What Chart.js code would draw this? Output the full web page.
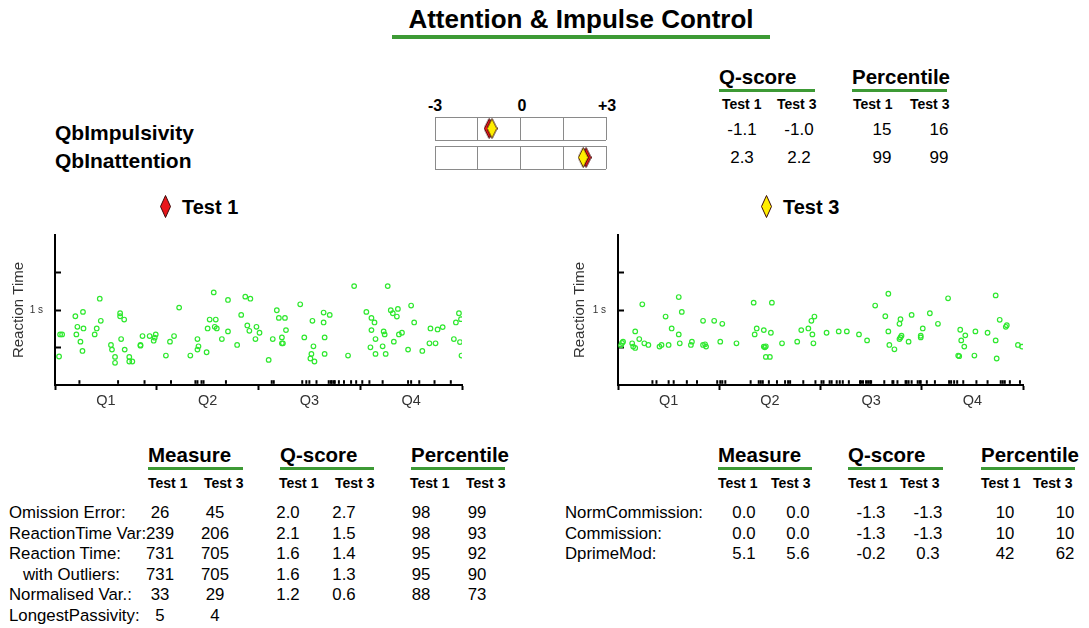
<!DOCTYPE html>
<html>
<head>
<meta charset="utf-8">
<title>Attention &amp; Impulse Control</title>
<script src="https://cdn.jsdelivr.net/npm/chart.js@4.4.0/dist/chart.umd.min.js"></script>
<style>
  body { margin: 0; background: #fff; font-family: "Liberation Sans", Arial, sans-serif; color: #000; }
  #page { position: relative; width: 1089px; height: 628px; overflow: hidden; }
  .t { position: absolute; white-space: nowrap; line-height: 1; transform: translateY(-50%); }
  .c { transform: translate(-50%, -50%); }
  .b { font-weight: bold; }
  .bar { position: absolute; background: #3d9a35; }
  canvas { position: absolute; }
</style>
</head>
<body>
<div id="page"></div>
<script>
// --- data ---
const quarterLabels = ['Q1', 'Q2', 'Q3', 'Q4'];

// [quarter position, reaction time in ms]
const test1Hits = [
  [0.04,380],[0.05,675],[0.07,675],[0.20,917],[0.21,675],[0.22,776],[0.25,578],[0.27,454],[0.275,975],[0.28,754],
  [0.39,675],[0.41,754],[0.44,1151],[0.45,856],[0.55,534],[0.56,472],[0.59,375],[0.59,296],[0.64,957],[0.64,917],
  [0.65,613],[0.68,873],[0.685,472],[0.73,313],[0.73,375],[0.76,313],[0.84,525],[0.84,534],[0.86,653],[0.93,653],
  [0.97,591],[0.98,631],[0.99,675],[1.09,393],[1.13,578],[1.17,653],[1.22,1032],[1.33,393],[1.40,472],[1.40,613],
  [1.41,516],[1.49,437],[1.50,754],[1.52,873],[1.56,1235],[1.57,776],[1.58,873],[1.59,754],[1.64,613],[1.70,1134],
  [1.70,715],[1.79,534],[1.83,935],[1.87,1178],[1.89,794],[1.91,723],[1.92,1151],[1.97,613],[1.98,776],[2.01,697],
  [2.10,335],[2.14,613],[2.18,997],[2.20,895],[2.23,635],[2.23,556],[2.24,556],[2.26,895],[2.27,732],[2.41,1076],
  [2.45,635],[2.51,353],[2.52,415],[2.53,856],[2.54,516],[2.55,313],[2.64,966],[2.64,834],[2.65,635],[2.65,415],
  [2.70,935],[2.88,393],[2.94,1319],[3.06,975],[3.10,503],[3.11,895],[3.11,732],[3.14,834],[3.15,613],[3.15,415],
  [3.22,516],[3.23,715],[3.24,675],[3.25,415],[3.27,1319],[3.30,997],[3.32,957],[3.33,578],[3.36,913],[3.37,1015],
  [3.38,675],[3.41,697],[3.47,472],[3.50,1059],[3.53,834],[3.61,454],[3.68,556],[3.69,754],[3.74,556],[3.76,741],
  [3.81,772],[3.92,613],[3.94,834],[3.97,957],[3.98,573],[3.99,878],[3.995,393]
];
const test1Rug = [0.24,0.62,0.88,1.14,1.38,1.40,1.44,1.46,1.68,2.13,2.15,2.43,2.47,2.50,2.57,2.69,2.71,2.72,
  2.74,2.75,2.79,2.84,2.91,2.96,3.02,3.09,3.22,3.47,3.50,3.58,3.73,3.89];

const test3Hits = [
  [0.03,529],[0.04,560],[0.05,578],[0.14,556],[0.15,512],[0.17,494],[0.17,715],[0.21,613],[0.24,1076],[0.26,556],
  [0.30,534],[0.41,512],[0.43,534],[0.47,913],[0.50,534],[0.53,754],[0.60,1173],[0.60,675],[0.61,556],[0.63,975],
  [0.72,534],[0.73,578],[0.84,856],[0.84,534],[0.86,543],[0.87,512],[0.95,856],[1.01,578],[1.03,816],[1.17,556],
  [1.34,1098],[1.35,675],[1.37,754],[1.44,512],[1.44,732],[1.45,503],[1.46,516],[1.46,375],[1.50,375],[1.51,697],
  [1.52,1098],[1.62,556],[1.77,578],[1.81,732],[1.88,754],[1.91,856],[1.92,675],[1.93,556],[1.94,913],[2.06,697],
  [2.18,715],[2.26,715],[2.38,675],[2.46,595],[2.54,1059],[2.64,917],[2.67,1217],[2.67,715],[2.68,534],[2.73,476],
  [2.78,816],[2.78,613],[2.79,878],[2.79,635],[2.80,657],[2.87,578],[2.90,935],[2.99,635],[2.99,657],[3.01,754],
  [3.08,957],[3.16,816],[3.26,1156],[3.36,393],[3.37,384],[3.38,737],[3.39,595],[3.42,512],[3.43,662],[3.52,393],
  [3.53,715],[3.65,697],[3.73,1195],[3.73,595],[3.74,353],[3.77,869],[3.83,776],[3.84,798],[3.95,534],[3.99,512]
];
const test3Rug = [0.34,0.38,0.50,0.55,0.68,0.78,0.98,1.01,1.03,1.06,1.31,1.39,1.41,1.43,1.49,1.57,1.65,1.68,1.70,
  1.83,1.95,2.01,2.03,2.09,2.11,2.16,2.19,2.22,2.28,2.39,2.40,2.42,2.45,2.47,2.49,2.50,2.63,2.71,2.72,2.76,2.84,
  2.85,2.87,2.90,2.96,2.98,2.99,3.05,3.13,3.27,3.29,3.32,3.35,3.41,3.54,3.65,3.78,3.80,3.82,3.87,3.97];

// QbTest summary
const qbNames = ['QbImpulsivity', 'QbInattention'];
const qbScoreT1 = [-1.1, 2.3];
const qbScoreT3 = [-1.0, 2.2];
const qbPctT1 = [15, 99];
const qbPctT3 = [16, 99];

// left table
const sumNames = ['Omission Error:', 'ReactionTime Var:', 'Reaction Time:', 'with Outliers:', 'Normalised Var.:', 'LongestPassivity:'];
const sumMeasureT1 = [26, 239, 731, 731, 33, 5];
const sumMeasureT3 = [45, 206, 705, 705, 29, 4];
const sumQT1 = [2.0, 2.1, 1.6, 1.6, 1.2, null];
const sumQT3 = [2.7, 1.5, 1.4, 1.3, 0.6, null];
const sumPctT1 = [98, 98, 95, 95, 88, null];
const sumPctT3 = [99, 93, 92, 90, 73, null];

// right table
const comNames = ['NormCommission:', 'Commission:', 'DprimeMod:'];
const comMeasureT1 = [0.0, 0.0, 5.1];
const comMeasureT3 = [0.0, 0.0, 5.6];
const comQT1 = [-1.3, -1.3, -0.2];
const comQT3 = [-1.3, -1.3, 0.3];
const comPctT1 = [10, 10, 42];
const comPctT3 = [10, 10, 62];

const GREEN = '#3d9a35';
const DOT = '#2ee82e';
const page = document.getElementById('page');

// --- helpers ---
function text(str, x, y, size, opts) {
  opts = opts || {};
  var d = document.createElement('div');
  d.className = 't' + (opts.bold ? ' b' : '') + (opts.center ? ' c' : '');
  d.style.left = x + 'px';
  d.style.top = y + 'px';
  d.style.fontSize = size + 'px';
  if (opts.color) d.style.color = opts.color;
  d.textContent = str;
  page.appendChild(d);
}
function bar(x1, x2, y, h) {
  var d = document.createElement('div');
  d.className = 'bar';
  d.style.left = x1 + 'px';
  d.style.width = (x2 - x1) + 'px';
  d.style.top = y + 'px';
  d.style.height = h + 'px';
  page.appendChild(d);
}
function canvasAt(x, y, w, h) {
  var c = document.createElement('canvas');
  c.width = w; c.height = h;
  c.style.left = x + 'px'; c.style.top = y + 'px';
  page.appendChild(c);
  return c;
}
function diamond(fill, w, h) {
  var c = document.createElement('canvas');
  c.width = w; c.height = h;
  var g = c.getContext('2d');
  g.beginPath();
  g.moveTo(w / 2, 0.5); g.lineTo(w - 0.5, h / 2); g.lineTo(w / 2, h - 0.5); g.lineTo(0.5, h / 2);
  g.closePath();
  g.fillStyle = fill; g.fill();
  g.strokeStyle = '#3a0a0a'; g.lineWidth = 1; g.stroke();
  return c;
}
function fmt(v, dec) { return v === null ? '' : v.toFixed(dec); }

// --- title ---
text('Attention & Impulse Control', 581, 19, 26, { bold: true, center: true });
bar(392, 770, 35, 4);

// --- QbTest slider rows ---
text('-3', 435, 106, 16, { bold: true, center: true });
text('0', 522, 106, 16, { bold: true, center: true });
text('+3', 607, 106, 16, { bold: true, center: true });

const sliderTops = [116, 145];
const sliderRowY = [132, 160];
qbNames.forEach(function (name, i) {
  text(name, 55, sliderRowY[i], 21, { bold: true });
  var c = canvasAt(434, sliderTops[i], 173, 25);
  new Chart(c, {
    type: 'scatter',
    data: {
      datasets: [
        { data: [{ x: qbScoreT1[i], y: 0.5 }], pointStyle: diamond('#e8161b', 11, 21), order: 2 },
        { data: [{ x: qbScoreT3[i], y: 0.5 }], pointStyle: diamond('#ffee00', 11, 21), order: 1 }
      ]
    },
    options: {
      responsive: false, animation: false,
      layout: { padding: 1, autoPadding: false },
      plugins: { legend: { display: false }, tooltip: { enabled: false } },
      scales: {
        x: {
          min: -3, max: 3,
          afterBuildTicks: function (s) { s.ticks = [-3, -1.5, 0, 1.5, 3].map(function (v) { return { value: v }; }); },
          afterFit: function (s) { s.height = 0; s.paddingLeft = 0; s.paddingRight = 0; },
          ticks: { display: false },
          grid: { color: '#8a8a8a', drawTicks: false },
          border: { display: false }
        },
        y: {
          min: 0, max: 1,
          afterBuildTicks: function (s) { s.ticks = [{ value: 0 }, { value: 1 }]; },
          afterFit: function (s) { s.width = 0; s.paddingTop = 0; s.paddingBottom = 0; },
          ticks: { display: false },
          grid: { color: '#8a8a8a', drawTicks: false },
          border: { display: false }
        }
      }
    }
  });
});

// --- top right score table ---
text('Q-score', 719, 77, 20.5, { bold: true });
bar(719, 815, 89, 3);
text('Percentile', 852, 77, 20.5, { bold: true });
bar(852, 947, 89, 3);
[[722, 'Test 1'], [777, 'Test 3'], [853, 'Test 1'], [910, 'Test 3']].forEach(function (h) {
  text(h[1], h[0], 104, 14, { bold: true });
});
qbNames.forEach(function (n, i) {
  var y = sliderRowY[i] - 3;
  text(fmt(qbScoreT1[i], 1), 742, y, 17, { center: true });
  text(fmt(qbScoreT3[i], 1), 799, y, 17, { center: true });
  text(fmt(qbPctT1[i], 0), 882, y, 17, { center: true });
  text(fmt(qbPctT3[i], 0), 939, y, 17, { center: true });
});

// --- legend ---
var d1 = diamond('#e8161b', 11, 23);
d1.style.left = '160px'; d1.style.top = '195px'; page.appendChild(d1);
text('Test 1', 182, 207, 20, { bold: true });
var d3 = diamond('#ffee00', 11, 23);
d3.style.left = '761px'; d3.style.top = '195px'; page.appendChild(d3);
text('Test 3', 783, 207, 20, { bold: true });

// --- reaction time scatter plots ---
function makeScatter(x, yAxisWidth, hits, rug) {
  var c = canvasAt(x, 230, 460, 185);
  return new Chart(c, {
    type: 'scatter',
    data: {
      datasets: [
        {
          data: hits.map(function (p) { return { x: p[0], y: p[1] }; }),
          pointStyle: 'circle', radius: 2.3, borderWidth: 1.2,
          borderColor: DOT, backgroundColor: 'rgba(0,0,0,0)'
        },
        {
          data: rug.map(function (v) { return { x: v, y: 40 }; }),
          pointStyle: 'line', rotation: 90, radius: 1.8, borderWidth: 2,
          borderColor: '#000', backgroundColor: '#000'
        }
      ]
    },
    options: {
      responsive: false, animation: false,
      layout: { padding: { top: 5, right: 8, left: 0, bottom: 0 }, autoPadding: false },
      plugins: { legend: { display: false }, tooltip: { enabled: false } },
      scales: {
        x: {
          type: 'linear', min: 0, max: 4,
          afterBuildTicks: function (s) {
            s.ticks = [0, 0.5, 1, 1.5, 2, 2.5, 3, 3.5, 4].map(function (v) { return { value: v }; });
          },
          afterFit: function (s) { s.height = 30; s.paddingLeft = 0; s.paddingRight = 0; },
          ticks: {
            autoSkip: false, maxRotation: 0, padding: 2, color: '#333', font: { size: 14.5 },
            callback: function (v) { return Number.isInteger(v) ? '' : quarterLabels[Math.floor(v)]; }
          },
          grid: {
            drawOnChartArea: false, tickLength: 5, tickWidth: 2,
            tickColor: function (ctx) { return Number.isInteger(ctx.tick.value) ? '#000' : 'rgba(0,0,0,0)'; }
          },
          border: { color: '#000', width: 2 }
        },
        y: {
          min: 0, max: 2000,
          afterBuildTicks: function (s) { s.ticks = [500, 1000, 1500].map(function (v) { return { value: v }; }); },
          afterFit: function (s) { s.width = yAxisWidth; s.paddingTop = 0; s.paddingBottom = 0; },
          ticks: {
            padding: 18, color: '#333', font: { size: 10 },
            callback: function (v) { return v === 1000 ? '1 s' : ''; }
          },
          grid: { drawOnChartArea: false, tickLength: -6, tickWidth: 2, tickColor: '#000' },
          border: { color: '#000', width: 2 },
          title: { display: true, text: 'Reaction Time', color: '#333', font: { size: 15 }, padding: 0 }
        }
      }
    }
  });
}
makeScatter(10, 45, test1Hits, test1Rug);
makeScatter(571, 47, test3Hits, test3Rug);

// --- bottom tables ---
function tableHeads(xs, underline) {
  text('Measure', xs[0], 455, 20.5, { bold: true });
  text('Q-score', xs[1], 455, 20.5, { bold: true });
  text('Percentile', xs[2], 455, 20.5, { bold: true });
  underline.forEach(function (u) { bar(u[0], u[1], 467, 3); });
}
function subHeads(xs) {
  xs.forEach(function (x, i) { text(i % 2 ? 'Test 3' : 'Test 1', x, 483, 14, { bold: true }); });
}
const rowY = [513, 533.5, 554, 574.5, 595, 615.5];

tableHeads([148, 280, 411], [[148, 243], [280, 374], [411, 505]]);
subHeads([148, 204, 279, 335, 410, 466]);
sumNames.forEach(function (n, i) {
  text(n, i === 3 ? 23 : 9, rowY[i], 16.8);
  text(fmt(sumMeasureT1[i], 0), 160, rowY[i], 16.8, { center: true });
  text(fmt(sumMeasureT3[i], 0), 215, rowY[i], 16.8, { center: true });
  text(fmt(sumQT1[i], 1), 288, rowY[i], 16.8, { center: true });
  text(fmt(sumQT3[i], 1), 344, rowY[i], 16.8, { center: true });
  text(fmt(sumPctT1[i], 0), 421, rowY[i], 16.8, { center: true });
  text(fmt(sumPctT3[i], 0), 477, rowY[i], 16.8, { center: true });
});

tableHeads([718, 848, 981], [[718, 812], [848, 943], [981, 1075]]);
subHeads([718, 771, 848, 900, 981, 1033]);
comNames.forEach(function (n, i) {
  text(n, 565, rowY[i], 16.8);
  text(fmt(comMeasureT1[i], 1), 744, rowY[i], 16.8, { center: true });
  text(fmt(comMeasureT3[i], 1), 798, rowY[i], 16.8, { center: true });
  text(fmt(comQT1[i], 1), 871, rowY[i], 16.8, { center: true });
  text(fmt(comQT3[i], 1), 928, rowY[i], 16.8, { center: true });
  text(fmt(comPctT1[i], 0), 1005, rowY[i], 16.8, { center: true });
  text(fmt(comPctT3[i], 0), 1065, rowY[i], 16.8, { center: true });
});
</script>
</body>
</html>
